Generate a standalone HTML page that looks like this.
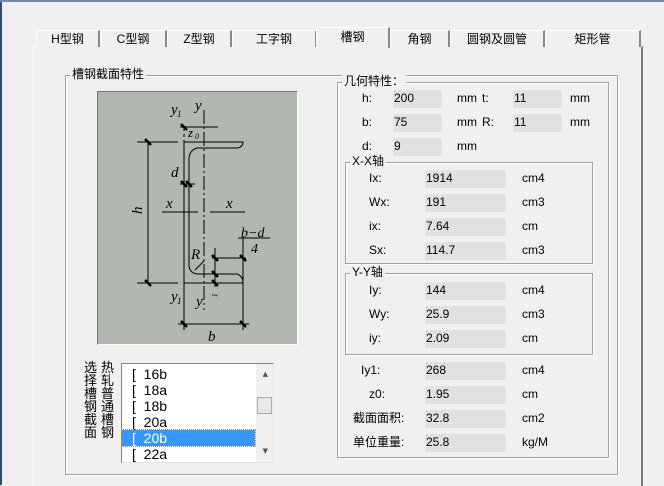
<!DOCTYPE html>
<html><head><meta charset="utf-8"><style>
*{margin:0;padding:0;box-sizing:border-box}
body{width:664px;height:485px;background:#f0f0f0;position:relative;overflow:hidden;font-family:"Liberation Sans","Noto Sans CJK SC",sans-serif;font-size:12px;color:#000}
.a{position:absolute}
.tab{position:absolute;top:30px;height:17px;border:1px solid #fff;border-right:2px solid #888;border-bottom:none;text-align:center;line-height:16px;font-size:12px;background:#f0f0f0}
.gb{position:absolute;border:1px solid #a0a0a0;box-shadow:inset 1px 1px 0 #fff,1px 1px 0 #fff}
.gl{position:absolute;background:#f0f0f0;padding:0 2px;font-size:12px;line-height:13px}
.inp{position:absolute;background:#e1e1e1;height:18px;line-height:17px;padding-left:1px;font-size:12px}
.lb{position:absolute;font-size:12px;line-height:18px}
</style></head><body>
<div class="a" style="left:0;top:0;width:2px;height:485px;background:#2a4a7a"></div>
<div class="a" style="left:0;top:0;width:664px;height:2px;background:#6d8ab5"></div>

<div class="a" style="left:33px;top:46px;width:610px;height:440px;border-left:1px solid #fff;border-top:1px solid #fff;border-right:2px solid #777"></div>

<div class="tab" style="left:36px;width:64px">H型钢</div>
<div class="tab" style="left:100px;width:67px">C型钢</div>
<div class="tab" style="left:167px;width:65px">Z型钢</div>
<div class="tab" style="left:232px;width:85px">工字钢</div>
<div class="tab" style="left:316px;top:27px;height:21px;width:74px;z-index:2;line-height:18px">槽钢</div>
<div class="tab" style="left:390px;width:60px">角钢</div>
<div class="tab" style="left:450px;width:95px">圆钢及圆管</div>
<div class="tab" style="left:545px;width:96px">矩形管</div>

<div class="gb" style="left:65px;top:75px;width:553px;height:400px"></div>
<div class="gl" style="left:70px;top:68px">槽钢截面特性</div>

<div class="a" style="left:97px;top:91px;width:201px;height:254px;background:#b0b8b0;border:1px solid;border-color:#777 #fff #fff #777"></div>
<svg class="a" style="left:0;top:0" width="664" height="485" viewBox="0 0 664 485">
<g stroke="#000" stroke-width="1" fill="none">
<line x1="148" y1="142" x2="148" y2="283"/>
<line x1="137" y1="142" x2="178" y2="142"/>
<line x1="137" y1="283" x2="178" y2="283"/>
<path d="M184 142 H243 Q243 147 237 148 H197 Q190 150 189 158 V266 Q190 273 197 274 H237 Q243 276 243 283 H184 Z"/>
<line x1="204" y1="110" x2="204" y2="310" stroke-dasharray="14,3,2,3"/>
<line x1="184" y1="128" x2="184" y2="142" stroke-dasharray="3,3"/>
<line x1="184" y1="283" x2="184" y2="330"/>
<line x1="243" y1="237" x2="243" y2="330"/>
<line x1="180" y1="127" x2="218" y2="127"/>
<line x1="180" y1="184" x2="195" y2="184"/>
<line x1="162" y1="212" x2="198" y2="212"/>
<line x1="210" y1="212" x2="245" y2="212"/>
<line x1="178" y1="324" x2="249" y2="324"/>
<line x1="212" y1="258" x2="246" y2="258"/>
<line x1="215" y1="248" x2="215" y2="287"/>
<line x1="238" y1="238" x2="270" y2="238"/>
<line x1="195" y1="270" x2="204" y2="261"/>
</g>
<g stroke="#000" stroke-width="2.5">
<line x1="145" y1="139" x2="151" y2="145"/><line x1="145" y1="280" x2="151" y2="286"/>
<line x1="181" y1="124" x2="187" y2="130"/><line x1="181" y1="181" x2="187" y2="187"/><line x1="186" y1="181" x2="192" y2="187"/>
<line x1="181" y1="321" x2="187" y2="327"/><line x1="240" y1="321" x2="246" y2="327"/>
<line x1="212" y1="255" x2="218" y2="261"/><line x1="240" y1="255" x2="246" y2="261"/>
<line x1="212" y1="271" x2="218" y2="277"/><line x1="212" y1="280" x2="218" y2="286"/>
</g>
<g font-family="Liberation Serif,serif" font-style="italic" font-size="15" fill="#000">
<text x="171" y="114">y</text><text x="177" y="117" font-size="9">1</text>
<text x="195" y="110">y</text>
<text x="188" y="137" font-size="13">z</text><text x="195" y="139" font-size="8">0</text>
<text x="171" y="177">d</text>
<text x="166" y="208">x</text><text x="226" y="208">x</text>
<text x="138" y="218" transform="rotate(-90 138 214)">h</text>
<text x="191" y="259">R</text>
<text x="241" y="237" font-size="14">b−d</text>
<text x="251" y="253" font-size="14">4</text>
<text x="171" y="301">y</text><text x="177" y="304" font-size="9">1</text>
<text x="196" y="306">y</text>
<text x="212" y="300" font-size="9" transform="rotate(90 215 297)">t</text>
<text x="208" y="341">b</text>
</g>
</svg>

<div class="a" style="left:84px;top:361px;width:13px;font-size:13px;line-height:13px">选择槽钢截面</div>
<div class="a" style="left:101px;top:361px;width:13px;font-size:13px;line-height:13px">热轧普通槽钢</div>
<div class="a" style="left:121px;top:363px;width:153px;height:100px;background:#fff;border:1px solid;border-color:#828282 #e3e3e3 #e3e3e3 #828282;font-family:'Liberation Sans',sans-serif;font-size:14px;line-height:16px">
<div style="padding-left:10px;height:16px;margin-top:2px">[&nbsp; 16b</div>
<div style="padding-left:10px;height:16px">[&nbsp; 18a</div>
<div style="padding-left:10px;height:16px">[&nbsp; 18b</div>
<div style="padding-left:10px;height:16px">[&nbsp; 20a</div>
<div style="padding-left:10px;height:16px;background:#3399ff;color:#fff;width:133px;outline:1px dotted #c80">[&nbsp; 20b</div>
<div style="padding-left:10px;height:16px">[&nbsp; 22a</div>
<div class="a" style="right:0;top:0;width:17px;height:98px;background:#f0f0f0"></div>
<div class="a" style="top:7px;font-size:7px;line-height:7px;font-family:'DejaVu Sans';color:#555;right:5px">▲</div>
<div class="a" style="right:1px;top:33px;width:15px;height:17px;background:#e8e8e8;border:1px solid #aaa"></div>
<div class="a" style="top:84px;font-size:7px;line-height:7px;font-family:'DejaVu Sans';color:#555;right:5px">▼</div>
</div>

<div class="gb" style="left:337px;top:82px;width:272px;height:376px"></div>
<div class="gl" style="left:342px;top:75px">几何特性：</div>
<div class="lb" style="left:362px;top:89px">h:</div><div class="inp" style="left:393px;top:90px;width:49px">200</div><div class="lb" style="left:457px;top:89px">mm</div>
<div class="lb" style="left:482px;top:89px">t:</div><div class="inp" style="left:513px;top:90px;width:49px">11</div><div class="lb" style="left:570px;top:89px">mm</div>
<div class="lb" style="left:362px;top:113px">b:</div><div class="inp" style="left:393px;top:114px;width:49px">75</div><div class="lb" style="left:457px;top:113px">mm</div>
<div class="lb" style="left:482px;top:113px">R:</div><div class="inp" style="left:513px;top:114px;width:49px">11</div><div class="lb" style="left:570px;top:113px">mm</div>
<div class="lb" style="left:362px;top:137px">d:</div><div class="inp" style="left:393px;top:138px;width:49px">9</div><div class="lb" style="left:457px;top:137px">mm</div>

<div class="gb" style="left:345px;top:162px;width:248px;height:102px"></div>
<div class="gl" style="left:350px;top:155px">X-X轴</div>
<div class="lb" style="left:369px;top:169px">Ix:</div><div class="inp" style="left:425px;top:170px;width:81px">1914</div><div class="lb" style="left:522px;top:169px">cm4</div>
<div class="lb" style="left:369px;top:193px">Wx:</div><div class="inp" style="left:425px;top:194px;width:81px">191</div><div class="lb" style="left:522px;top:193px">cm3</div>
<div class="lb" style="left:369px;top:217px">ix:</div><div class="inp" style="left:425px;top:218px;width:81px">7.64</div><div class="lb" style="left:522px;top:217px">cm</div>
<div class="lb" style="left:369px;top:241px">Sx:</div><div class="inp" style="left:425px;top:242px;width:81px">114.7</div><div class="lb" style="left:522px;top:241px">cm3</div>

<div class="gb" style="left:345px;top:273px;width:248px;height:82px"></div>
<div class="gl" style="left:350px;top:266px">Y-Y轴</div>
<div class="lb" style="left:369px;top:281px">Iy:</div><div class="inp" style="left:425px;top:282px;width:81px">144</div><div class="lb" style="left:522px;top:281px">cm4</div>
<div class="lb" style="left:369px;top:305px">Wy:</div><div class="inp" style="left:425px;top:306px;width:81px">25.9</div><div class="lb" style="left:522px;top:305px">cm3</div>
<div class="lb" style="left:369px;top:329px">iy:</div><div class="inp" style="left:425px;top:330px;width:81px">2.09</div><div class="lb" style="left:522px;top:329px">cm</div>

<div class="lb" style="left:361px;top:361px">Iy1:</div><div class="inp" style="left:425px;top:362px;width:81px">268</div><div class="lb" style="left:522px;top:361px">cm4</div>
<div class="lb" style="left:369px;top:385px">z0:</div><div class="inp" style="left:425px;top:386px;width:81px">1.95</div><div class="lb" style="left:522px;top:385px">cm</div>
<div class="lb" style="left:353px;top:409px">截面面积:</div><div class="inp" style="left:425px;top:410px;width:81px">32.8</div><div class="lb" style="left:522px;top:409px">cm2</div>
<div class="lb" style="left:353px;top:433px">单位重量:</div><div class="inp" style="left:425px;top:434px;width:81px">25.8</div><div class="lb" style="left:522px;top:433px">kg/M</div>
</body></html>
